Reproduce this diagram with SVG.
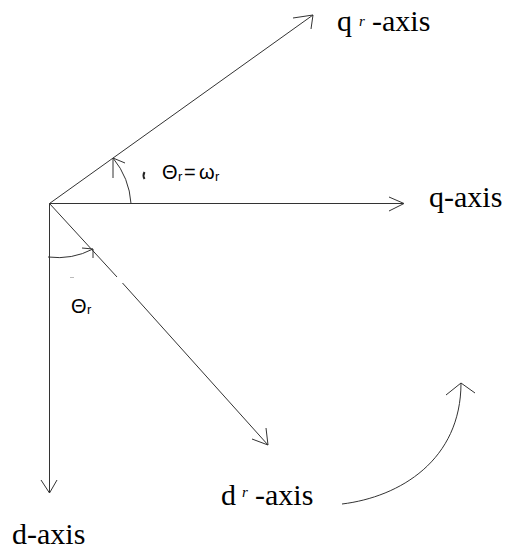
<svg xmlns="http://www.w3.org/2000/svg" width="509" height="550" viewBox="0 0 509 550">
<defs>
<style>
.ln{stroke:#333;stroke-width:1;fill:none}
.lbl{font-family:"Liberation Serif","Times New Roman",serif;font-size:30px;fill:#000}
.sup{font-family:"Liberation Serif","Times New Roman",serif;font-size:15px;font-style:italic;fill:#000}
.ang{font-family:"Liberation Sans",Arial,sans-serif;font-size:20px;fill:#000}
.sub{font-family:"Liberation Sans",Arial,sans-serif;font-size:13px;fill:#000}
</style>
</defs>
<rect width="509" height="550" fill="#fff"/>
<g id="connectors">
<g id="q-axis-line">
<line class="ln" x1="49.5" y1="203.5" x2="403" y2="203.5"/>
<polyline class="ln" points="389,197 404,203.5 389,211"/>
</g>
<g id="d-axis-line">
<line class="ln" x1="49.5" y1="203.5" x2="49.5" y2="493"/>
<polyline class="ln" points="41,480 49.5,493 57,480"/>
</g>
<g id="qr-axis-line">
<line class="ln" x1="49.5" y1="203.5" x2="313" y2="15"/>
<polyline class="ln" points="293,18 313,15 311,29"/>
</g>
<g id="dr-axis-line">
<line class="ln" x1="49.5" y1="203.5" x2="117" y2="277"/>
<line class="ln" x1="122.5" y1="283" x2="268" y2="445"/>
<polyline class="ln" points="252,439 268,445 266,428"/>
<line x1="70" y1="277.5" x2="74" y2="277.5" stroke="#bbb" stroke-width="1"/>
</g>
<g id="angle-arc-top">
<path class="ln" d="M113,158 A80,80 0 0 1 131,203.5"/>
<polyline class="ln" points="113,178 113,158 125,163"/>
<path d="M144.5,172 Q142.5,175.5 144.5,179" stroke="#222" stroke-width="2" fill="none"/>
</g>
<g id="angle-arc-bottom">
<path class="ln" d="M48,257 Q72,260 93,249"/>
<polyline class="ln" points="82,248 93,249 93,258"/>
</g>
<g id="rotation-arrow">
<path class="ln" d="M342,504 C400,497 461,460 461,383"/>
<polyline class="ln" points="446,395 461,383 475,393"/>
</g>
</g>
<g id="label-qr">
<text class="lbl" x="337" y="31">q</text>
<text class="sup" x="359" y="26">r</text>
<text class="lbl" x="372" y="31">-axis</text>
</g>
<g id="label-q">
<text class="lbl" x="429" y="207">q-axis</text>
</g>
<g id="label-dr">
<text class="lbl" x="221" y="505">d</text>
<text class="sup" x="242" y="497">r</text>
<text class="lbl" x="255" y="505">-axis</text>
</g>
<g id="label-d">
<text class="lbl" x="12" y="544">d-axis</text>
</g>
<g id="label-theta-omega">
<text class="ang" x="162" y="179">Θ</text>
<text class="sub" x="178" y="181">r</text>
<text class="ang" x="184" y="179">=</text>
<text class="ang" x="199" y="179">ω</text>
<text class="sub" x="215" y="181">r</text>
</g>
<g id="label-theta">
<text class="ang" x="71" y="313">Θ</text>
<text class="sub" x="87" y="314">r</text>
</g>
</svg>
